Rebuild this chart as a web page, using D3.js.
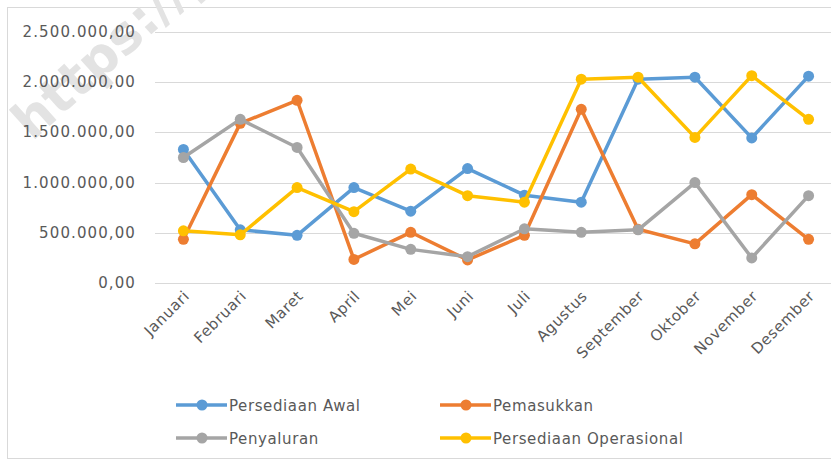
<!DOCTYPE html>
<html>
<head>
<meta charset="utf-8">
<script src="https://cdn.jsdelivr.net/npm/d3@7"></script>
<style>
  body { margin: 0; background: #fff; }
  .svg-frame { width: 831px; height: 460px; }
  text { font-family: "DejaVu Sans", sans-serif; fill: #595959; }
</style>
</head>
<body>
<div class="svg-frame"></div>
<script>
const months = ["Januari", "Februari", "Maret", "April", "Mei", "Juni", "Juli", "Agustus", "September", "Oktober", "November", "Desember"]
const persediaanAwal = [1330000, 530000, 475000, 950000, 715000, 1140000, 875000, 805000, 2030000, 2050000, 1445000, 2060000]
const pemasukkan = [435000, 1590000, 1820000, 235000, 505000, 230000, 475000, 1730000, 535000, 390000, 880000, 435000]
const penyaluran = [1250000, 1630000, 1350000, 495000, 335000, 262000, 540000, 505000, 530000, 1000000, 250000, 870000]
const persediaanOperasional = [520000, 480000, 950000, 710000, 1135000, 870000, 805000, 2030000, 2050000, 1450000, 2065000, 1630000]
const yTicks = [0, 500000, 1000000, 1500000, 2000000, 2500000]

const seriesNames = ["Persediaan Awal", "Pemasukkan", "Penyaluran", "Persediaan Operasional"]
const seriesValues = [persediaanAwal, pemasukkan, penyaluran, persediaanOperasional]
const colors = ["#5B9BD5", "#ED7D31", "#A5A5A5", "#FFC000"]

function drawViz() {
  const width = 831, height = 460
  const svg = d3.select(".svg-frame")
    .append("svg")
    .attr("width", width)
    .attr("height", height)

  // chart border
  svg.append("rect")
    .attr("x", 7.5).attr("y", 7.5)
    .attr("width", width).attr("height", height - 9)
    .attr("fill", "none").attr("stroke", "#D9D9D9")

  // watermark (cut off at the top, as in the source)
  svg.append("text")
    .attr("transform", "translate(32,142) rotate(-42)")
    .style("font-size", "52px").style("font-weight", "bold")
    .style("fill", "#e3e3e3")
    .text("https://p")

  const x = d3.scalePoint(months, [155, 837]).padding(0.5)
  const y = d3.scaleLinear([0, 2500000], [283, 32])
  const fmt = v => d3.format(",.2f")(v).replace(/,/g, "#").replace(".", ",").replace(/#/g, ".")

  // grid + y labels
  svg.append("g").selectAll("line")
    .data(yTicks)
    .join("line")
      .attr("x1", 155).attr("x2", width)
      .attr("y1", d => Math.round(y(d)) + 0.5).attr("y2", d => Math.round(y(d)) + 0.5)
      .attr("stroke", "#D9D9D9").attr("stroke-width", 1)

  svg.append("g").selectAll("text")
    .data(yTicks)
    .join("text")
      .attr("x", 136).attr("y", d => y(d) + 5)
      .attr("text-anchor", "end")
      .style("font-size", "15px")
      .style("letter-spacing", "1.1px")
      .text(fmt)

  // x labels
  svg.append("g").selectAll("text")
    .data(months)
    .join("text")
      .attr("transform", d => `translate(${x(d) + 7},${297}) rotate(-45)`)
      .attr("text-anchor", "end")
      .style("font-size", "15px")
      .style("letter-spacing", "0.6px")
      .text(d => d)

  // series
  const line = d3.line().x((d, i) => x(months[i])).y(d => y(d))
  seriesValues.forEach((vals, s) => {
    const g = svg.append("g")
    g.append("path")
      .attr("d", line(vals))
      .attr("fill", "none")
      .attr("stroke", colors[s])
      .attr("stroke-width", 3.5)
      .attr("stroke-linejoin", "round")
    g.selectAll("circle")
      .data(vals)
      .join("circle")
        .attr("cx", (d, i) => x(months[i]))
        .attr("cy", d => y(d))
        .attr("r", 5.5)
        .attr("fill", colors[s])
  })

  // legend
  const legendPos = [[176, 405], [440, 405], [176, 438], [440, 438]]
  seriesNames.forEach((name, s) => {
    const [lx, ly] = legendPos[s]
    const g = svg.append("g").attr("transform", `translate(${lx},${ly})`)
    g.append("line").attr("x1", 0).attr("x2", 51).attr("y1", 0).attr("y2", 0)
      .attr("stroke", colors[s]).attr("stroke-width", 3.5)
    g.append("circle").attr("cx", 26).attr("cy", 0).attr("r", 5.5).attr("fill", colors[s])
    g.append("text").attr("x", 53).attr("y", 6)
      .style("font-size", "15px")
      .style("letter-spacing", "0.6px")
      .text(name)
  })
}

drawViz()
</script>
</body>
</html>
